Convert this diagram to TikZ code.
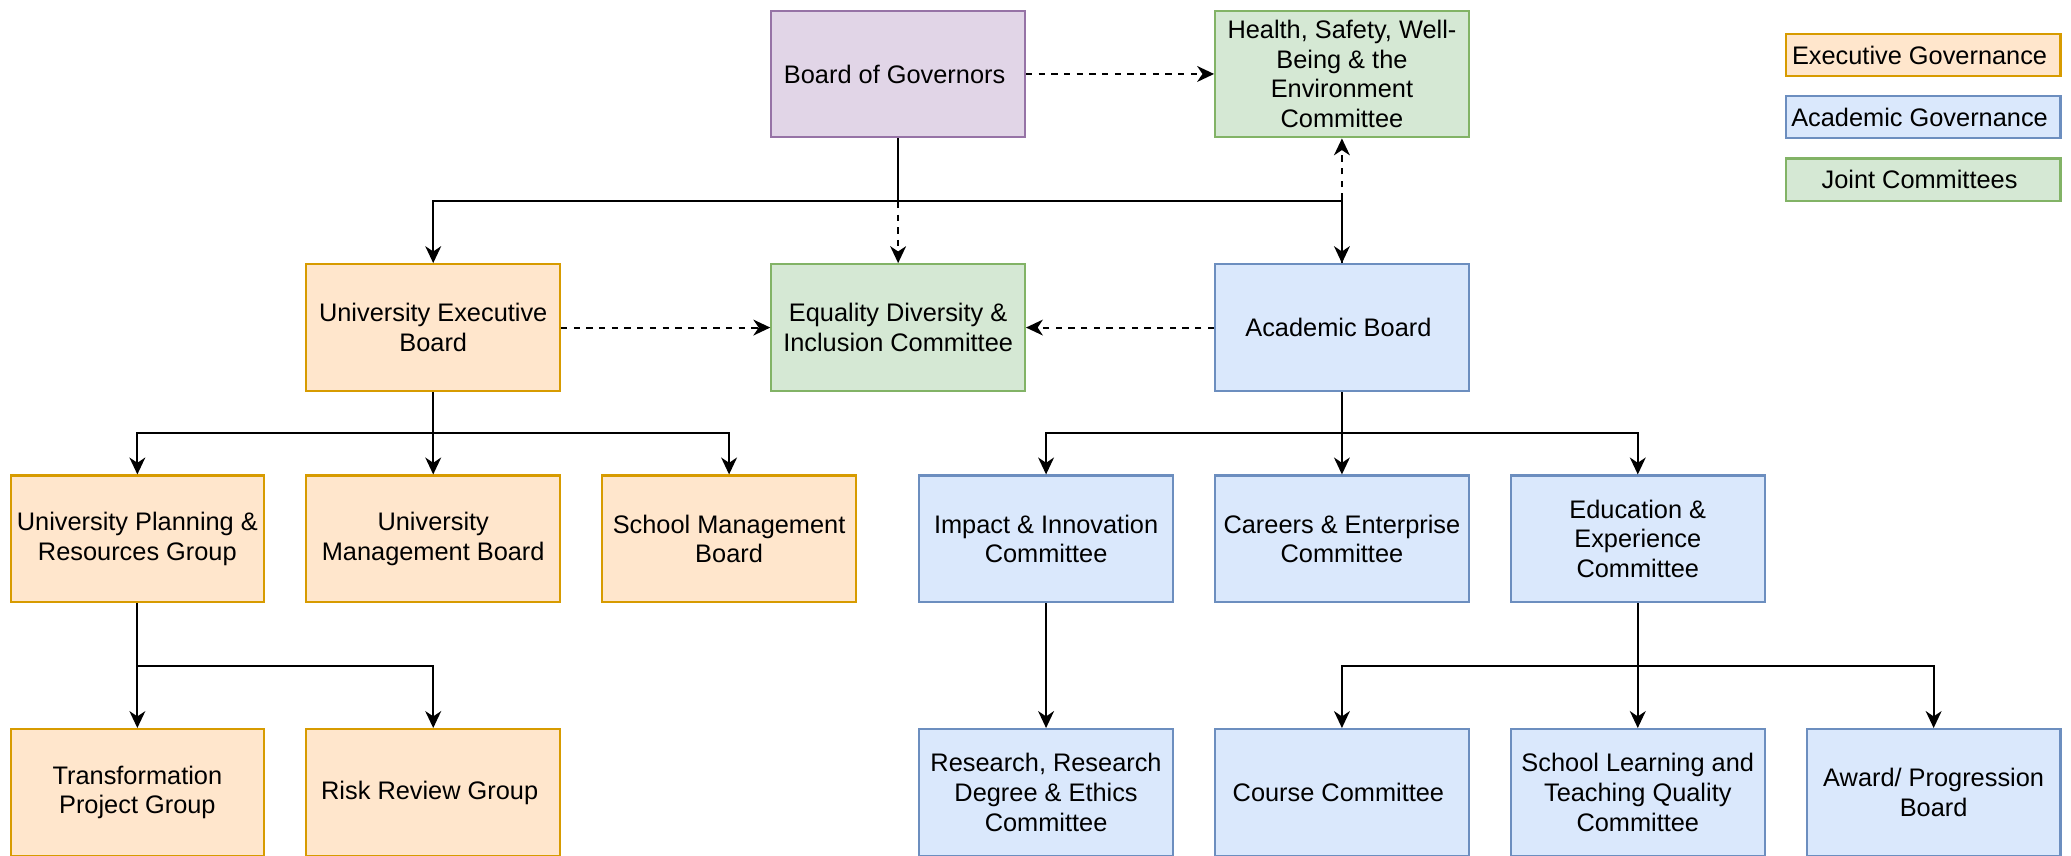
\documentclass[tikz,border=0pt]{standalone}
\usepackage{fontspec}
\setmainfont{Liberation Sans}
\usetikzlibrary{arrows.meta}

\definecolor{execfill}{HTML}{FFE6CC}
\definecolor{execline}{HTML}{D79B00}
\definecolor{acadfill}{HTML}{DAE8FC}
\definecolor{acadline}{HTML}{6C8EBF}
\definecolor{jointfill}{HTML}{D5E8D4}
\definecolor{jointline}{HTML}{82B366}
\definecolor{govfill}{HTML}{E1D5E7}
\definecolor{govline}{HTML}{9673A6}

\begin{document}
\begin{tikzpicture}[x=1pt, y=-1pt,
		box/.style={draw, line width=1pt, minimum width=120pt, minimum height=60pt, inner sep=0pt, align=center, font=\fontsize{12}{14}\selectfont},
		exec/.style={box, draw=execline, fill=execfill},
		acad/.style={box, draw=acadline, fill=acadfill},
		joint/.style={box, draw=jointline, fill=jointfill},
		gov/.style={box, draw=govline, fill=govfill},
		key/.style={minimum width=130pt, minimum height=20pt},
		arr/.style={line width=1pt, -{Stealth[length=8pt, width=7.5pt, inset=2.5pt]}},
		dasharr/.style={arr, dash pattern=on 3pt off 3pt}]
				\useasboundingbox (0, 0) rectangle (980, 405);
				% top
				\node[gov] (bog) at (425, 35) { Board of Governors };
				\node[joint] (hsw) at (635, 35) { Health, Safety, Well-\\Being \& the\\Environment\\Committee };
				% legend
				\node[exec, key] (keyexec) at (910, 26) { Executive Governance };
				\node[acad, key] (keyacad) at (910, 55.5) { Academic Governance };
				\node[joint, key] (keyjoint) at (910, 85) { Joint Committees };
				% second row
				\node[exec] (ueb) at (205, 155) { University Executive\\Board };
				\node[joint] (edi) at (425, 155) { Equality Diversity \&\\Inclusion Committee };
				\node[acad] (acb) at (635, 155) { Academic Board };
				% third row
				\node[exec] (uprg) at (65, 255) { University Planning \&\\Resources Group };
				\node[exec] (umb) at (205, 255) { University\\Management Board };
				\node[exec] (smb) at (345, 255) { School Management\\Board };
				\node[acad] (impact) at (495, 255) { Impact \& Innovation\\Committee };
				\node[acad] (careers) at (635, 255) { Careers \& Enterprise\\Committee };
				\node[acad] (edu) at (775, 255) { Education \&\\Experience\\Committee };
				% bottom row
				\node[exec] (tpg) at (65, 375) { Transformation\\Project Group };
				\node[exec] (rrg) at (205, 375) { Risk Review Group };
				\node[acad] (rdec) at (495, 375) { Research, Research\\Degree \& Ethics\\Committee };
				\node[acad] (course) at (635, 375) { Course Committee };
				\node[acad] (sltq) at (775, 375) { School Learning and\\Teaching Quality\\Committee };
				\node[acad] (award) at (915, 375) { Award/ Progression\\Board };
				% joins
				\coordinate (govjoin) at (425, 95);
				\coordinate (uebjoin) at (205, 205);
				\coordinate (acbjoin) at (635, 205);
				\coordinate (uprgjoin) at (65, 315);
				\coordinate (edujoin) at (775, 315);
				% dashed links
				\draw[dasharr] (bog.east) -- (hsw.west);
				\draw[dasharr] (bog.south) -- (edi.north);
				\draw[dasharr] (acb.north) -- (hsw.south);
				\draw[dasharr] (ueb.east) -- (edi.west);
				\draw[dasharr] (acb.west) -- (edi.east);
				% reporting lines
				\draw[line width=1pt] (bog.south) -- (govjoin);
				\draw[arr] (govjoin) -| (ueb.north);
				\draw[arr] (govjoin) -| (acb.north);
				\draw[line width=1pt] (ueb.south) -- (uebjoin);
				\foreach \n in {uprg, umb, smb}
					\draw[arr] (uebjoin) -| (\n.north);
				\draw[line width=1pt] (acb.south) -- (acbjoin);
				\foreach \n in {impact, careers, edu}
					\draw[arr] (acbjoin) -| (\n.north);
				\draw[line width=1pt] (uprg.south) -- (uprgjoin);
				\foreach \n in {tpg, rrg}
					\draw[arr] (uprgjoin) -| (\n.north);
				\draw[arr] (impact.south) -- (rdec.north);
				\draw[line width=1pt] (edu.south) -- (edujoin);
				\foreach \n in {course, sltq, award}
					\draw[arr] (edujoin) -| (\n.north);
			\end{tikzpicture}
\end{document}
